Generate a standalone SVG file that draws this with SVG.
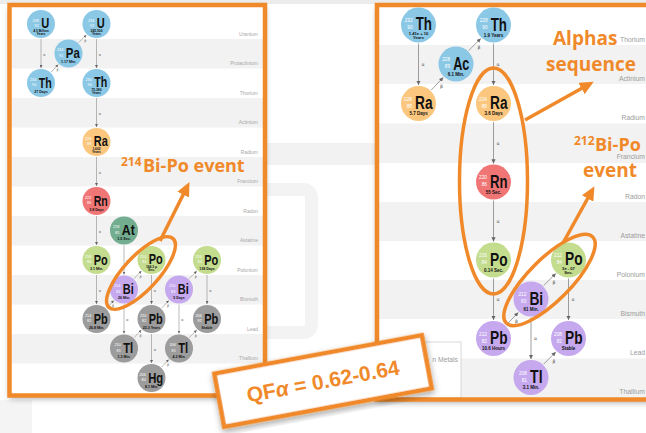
<svg xmlns="http://www.w3.org/2000/svg" width="646" height="433" viewBox="0 0 646 433">
  <defs>
    <style>
      .z { font-family: "Liberation Sans", Arial, sans-serif; font-size: 3.8px; fill: #fff; text-anchor: end; }
      .s { font-family: "Liberation Sans", Arial, sans-serif; font-weight: bold; font-size: 15px; fill: #111; }
      .h { font-family: "Liberation Sans", Arial, sans-serif; font-weight: bold; font-size: 3.6px; fill: #111; text-anchor: middle; }
      .h2 { font-size: 3.3px; }
      .lbl { font-family: "Liberation Sans", Arial, sans-serif; font-size: 5px; fill: #a8a8a8; text-anchor: end; }
      .rlbl { font-family: "Liberation Sans", Arial, sans-serif; font-size: 6.8px; fill: #9c9c9c; text-anchor: end; }
      .band { fill: #f2f2f2; }
      .blue { fill: #8ac8e6; }
      .peach { fill: #fbc77e; }
      .red { fill: #f07676; }
      .teal { fill: #71ad8e; }
      .green { fill: #c3dc8e; }
      .purple { fill: #c6a8ee; }
      .gray { fill: #9c9c9c; }
      .cl line { stroke: #777; stroke-width: 0.5; marker-end: url(#ah); }
      .cr line { stroke: #777; stroke-width: 0.7; marker-end: url(#ah); }
      .al { font-family: "DejaVu Sans", sans-serif; font-size: 3.4px; fill: #555; }
      .ar { font-family: "DejaVu Sans", sans-serif; font-size: 4.6px; fill: #555; }
      .mark { fill: none; stroke: #f0892a; stroke-width: 3.5; }
      .pointer { stroke: #f0892a; stroke-width: 3.5; marker-end: url(#big); }
      .note { font-family: "Open Sans", "Liberation Sans", sans-serif; font-weight: bold; fill: #f0892a; }
      .frame { fill: none; stroke: #f0892a; stroke-width: 4.5; }
    </style>
    <marker id="ah" viewBox="0 0 6 6" markerWidth="6" markerHeight="6" refX="6" refY="3" orient="auto" markerUnits="strokeWidth">
      <path d="M0,0 L6,3 L0,6 z" fill="#666"/>
    </marker>
    <marker id="big" viewBox="0 0 14 13" markerWidth="14" markerHeight="13" refX="4" refY="6.5" orient="auto" markerUnits="userSpaceOnUse">
      <path d="M0,0 L14,6.5 L0,13 z" fill="#f0892a"/>
    </marker>
    <filter id="sh" x="-10%" y="-10%" width="125%" height="125%">
      <feDropShadow dx="0" dy="3" stdDeviation="3" flood-color="#000" flood-opacity="0.35"/>
    </filter>
  </defs>

  <!-- backdrop -->
  <rect x="0" y="0" width="646" height="433" fill="#fff"/>
  <rect x="0" y="0" width="646" height="4" fill="#ececec"/>
  <rect x="250" y="143" width="130" height="22" fill="#f2f2f2"/>
  <rect x="180" y="189.5" width="131.5" height="143" rx="8" fill="none" stroke="#f3f3f3" stroke-width="13"/>
  <rect x="0" y="400" width="32" height="33" fill="#f4f4f4"/>

  <!-- uranium series panel -->
  <g id="panel-left">
    <rect x="9.5" y="5" width="255.5" height="390.5" fill="#fff" filter="url(#sh)"/>
    <rect class="band" x="11.5" y="39" width="251.5" height="29.5"/>
    <rect class="band" x="11.5" y="98" width="251.5" height="29.5"/>
    <rect class="band" x="11.5" y="157" width="251.5" height="29.5"/>
    <rect class="band" x="11.5" y="216" width="251.5" height="29.5"/>
    <rect class="band" x="11.5" y="275" width="251.5" height="29.5"/>
    <rect class="band" x="11.5" y="334" width="251.5" height="29.5"/>
    <text class="lbl" x="258" y="35.5">Uranium</text>
    <text class="lbl" x="258" y="65">Protactinium</text>
    <text class="lbl" x="258" y="94.5">Thorium</text>
    <text class="lbl" x="258" y="124">Actinium</text>
    <text class="lbl" x="258" y="153.5">Radium</text>
    <text class="lbl" x="258" y="183">Francium</text>
    <text class="lbl" x="258" y="212.5">Radon</text>
    <text class="lbl" x="258" y="242">Astatine</text>
    <text class="lbl" x="258" y="271.5">Polonium</text>
    <text class="lbl" x="258" y="301">Bismuth</text>
    <text class="lbl" x="258" y="330.5">Lead</text>
    <text class="lbl" x="258" y="360">Thallium</text>
    <rect class="frame" x="9.5" y="5" width="255.5" height="390.5"/>
  </g>

  <!-- thorium series panel -->
  <g id="panel-right">
    <rect x="377" y="5" width="300" height="394.5" fill="#fff" filter="url(#sh)"/>
    <rect class="band" x="379" y="45" width="267" height="39"/>
    <rect class="band" x="379" y="123.5" width="267" height="39.5"/>
    <rect class="band" x="379" y="202" width="267" height="39"/>
    <rect class="band" x="379" y="280" width="267" height="39"/>
    <rect class="band" x="379" y="358.5" width="267" height="39"/>
    <text class="rlbl" x="645" y="41.5">Thorium</text>
    <text class="rlbl" x="645" y="81">Actinium</text>
    <text class="rlbl" x="645" y="120">Radium</text>
    <text class="rlbl" x="645" y="159">Francium</text>
    <text class="rlbl" x="645" y="199">Radon</text>
    <text class="rlbl" x="645" y="238">Astatine</text>
    <text class="rlbl" x="645" y="277">Polonium</text>
    <text class="rlbl" x="645" y="316">Bismuth</text>
    <text class="rlbl" x="645" y="355">Lead</text>
    <text class="rlbl" x="645" y="394">Thallium</text>
    <rect x="379" y="342" width="82" height="56" fill="#fff" stroke="#d0d0d0" stroke-width="0.8"/>
    <text class="rlbl" x="458" y="362" fill="#aaa">n Metals</text>
    <rect class="frame" x="377" y="5" width="300" height="394.5"/>
  </g>

  <!-- decay connectors, uranium series -->
  <g id="connectors-left" class="cl">
    <line x1="41" y1="39" x2="41" y2="68"/>
    <line x1="96.5" y1="39" x2="96.5" y2="68"/>
    <line x1="96.5" y1="98" x2="96.5" y2="127"/>
    <line x1="96.5" y1="157" x2="96.5" y2="186"/>
    <line x1="96.5" y1="216" x2="96.5" y2="245"/>
    <line x1="96.5" y1="275" x2="96.5" y2="304"/>
    <line x1="124" y1="245.5" x2="124" y2="274.5"/>
    <line x1="124" y1="304.5" x2="124" y2="333.5"/>
    <line x1="151.5" y1="275" x2="151.5" y2="304"/>
    <line x1="151.5" y1="334" x2="151.5" y2="363"/>
    <line x1="179" y1="304.5" x2="179" y2="333.5"/>
    <line x1="207" y1="275" x2="207" y2="304"/>
    <line x1="51.2" y1="72" x2="58.3" y2="64.5"/>
    <line x1="78.8" y1="42.5" x2="86.3" y2="34.9"/>
    <line x1="106.7" y1="308" x2="113.8" y2="300.5"/>
    <line x1="134.2" y1="278.5" x2="141.3" y2="271"/>
    <line x1="134.2" y1="337.5" x2="141.3" y2="330"/>
    <line x1="161.7" y1="308" x2="168.8" y2="300.5"/>
    <line x1="189.2" y1="278.5" x2="196.8" y2="271"/>
    <line x1="161.7" y1="367" x2="168.8" y2="359.5"/>
    <line x1="189.2" y1="337.5" x2="196.8" y2="330"/>
    <text class="al" x="43.3" y="55.5">α</text>
    <text class="al" x="98.8" y="55.5">α</text>
    <text class="al" x="98.8" y="114.5">α</text>
    <text class="al" x="98.8" y="173.5">α</text>
    <text class="al" x="98.8" y="232.5">α</text>
    <text class="al" x="98.8" y="291.5">α</text>
    <text class="al" x="126.3" y="262">α</text>
    <text class="al" x="126.3" y="321">α</text>
    <text class="al" x="153.8" y="291.5">α</text>
    <text class="al" x="153.8" y="350.5">α</text>
    <text class="al" x="181.3" y="321">α</text>
    <text class="al" x="209.3" y="291.5">α</text>
    <text class="al" x="56.5" y="71">β</text>
    <text class="al" x="84.3" y="41.5">β</text>
    <text class="al" x="112" y="307">β</text>
    <text class="al" x="139.5" y="277.5">β</text>
    <text class="al" x="139.5" y="336.5">β</text>
    <text class="al" x="167" y="307">β</text>
    <text class="al" x="194.8" y="277.5">β</text>
    <text class="al" x="167" y="366">β</text>
    <text class="al" x="194.8" y="336.5">β</text>
  </g>

  <!-- decay connectors, thorium series -->
  <g id="connectors-right" class="cr">
    <line x1="418.5" y1="43.5" x2="418.5" y2="85"/>
    <line x1="493.5" y1="43.5" x2="493.5" y2="85"/>
    <line x1="493.5" y1="122" x2="493.5" y2="163.5"/>
    <line x1="493.5" y1="200.5" x2="493.5" y2="241.5"/>
    <line x1="493.5" y1="278.5" x2="493.5" y2="320"/>
    <line x1="531" y1="317.5" x2="531" y2="359"/>
    <line x1="568.5" y1="278.5" x2="568.5" y2="320"/>
    <line x1="431.2" y1="90.1" x2="443.3" y2="77.4"/>
    <line x1="468.7" y1="50.6" x2="480.8" y2="38.4"/>
    <line x1="506.2" y1="325.1" x2="518.3" y2="312.4"/>
    <line x1="543.7" y1="285.6" x2="555.8" y2="273.4"/>
    <line x1="543.7" y1="364.1" x2="555.8" y2="351.9"/>
    <text class="ar" x="421.5" y="66">α</text>
    <text class="ar" x="496.5" y="66">α</text>
    <text class="ar" x="496.5" y="144.5">α</text>
    <text class="ar" x="496.5" y="222.5">α</text>
    <text class="ar" x="496.5" y="300.5">α</text>
    <text class="ar" x="534" y="339.5">α</text>
    <text class="ar" x="571.5" y="300.5">α</text>
    <text class="ar" x="440" y="88">β</text>
    <text class="ar" x="477.5" y="48.5">β</text>
    <text class="ar" x="515" y="323">β</text>
    <text class="ar" x="552.5" y="284">β</text>
    <text class="ar" x="552.5" y="362.5">β</text>
  </g>

  <!-- uranium series nuclides -->
  <g id="u238" transform="translate(41,24)"><circle r="14" class="blue"/><text class="z" x="-2.25" y="-2.3">238</text><text class="z" x="-2.25" y="3.3">92</text><text class="s" x="0.25" y="4" textLength="8" lengthAdjust="spacingAndGlyphs">U</text><text class="h h2" y="7.9">4.5 Billion</text><text class="h h2" y="11.4">Years</text></g>
  <g id="u234" transform="translate(96.5,24)"><circle r="14" class="blue"/><text class="z" x="-2.25" y="-2.3">234</text><text class="z" x="-2.25" y="3.3">92</text><text class="s" x="0.25" y="4" textLength="8" lengthAdjust="spacingAndGlyphs">U</text><text class="h h2" y="7.9">245,500</text><text class="h h2" y="11.4">Years</text></g>
  <g id="pa234" transform="translate(68.5,53.5)"><circle r="14" class="blue"/><text class="z" x="-5.25" y="-2.3">234</text><text class="z" x="-5.25" y="3.3">91</text><text class="s" x="-2.75" y="4.5" textLength="14" lengthAdjust="spacingAndGlyphs">Pa</text><text class="h" y="9.5">1.17 Min.</text></g>
  <g id="th234" transform="translate(41,83)"><circle r="14" class="blue"/><text class="z" x="-4.75" y="-2.3">234</text><text class="z" x="-4.75" y="3.3">90</text><text class="s" x="-2.25" y="4.5" textLength="13" lengthAdjust="spacingAndGlyphs">Th</text><text class="h" y="9.5">27 Days</text></g>
  <g id="th230" transform="translate(96.5,83)"><circle r="14" class="blue"/><text class="z" x="-4.75" y="-2.3">230</text><text class="z" x="-4.75" y="3.3">90</text><text class="s" x="-2.25" y="4" textLength="13" lengthAdjust="spacingAndGlyphs">Th</text><text class="h h2" y="7.9">75,380</text><text class="h h2" y="11.4">Years</text></g>
  <g id="ra226" transform="translate(96.5,142)"><circle r="14" class="peach"/><text class="z" x="-5.25" y="-2.3">226</text><text class="z" x="-5.25" y="3.3">88</text><text class="s" x="-2.75" y="4" textLength="14" lengthAdjust="spacingAndGlyphs">Ra</text><text class="h h2" y="7.9">1,602</text><text class="h h2" y="11.4">Years</text></g>
  <g id="rn222" transform="translate(96.5,201)"><circle r="14" class="red"/><text class="z" x="-5.25" y="-2.3">222</text><text class="z" x="-5.25" y="3.3">86</text><text class="s" x="-2.75" y="4.5" textLength="14" lengthAdjust="spacingAndGlyphs">Rn</text><text class="h" y="9.5">3.8 Days</text></g>
  <g id="at218" transform="translate(124,230.5)"><circle r="14" class="teal"/><text class="z" x="-4.75" y="-2.3">218</text><text class="z" x="-4.75" y="3.3">85</text><text class="s" x="-2.25" y="4.5" textLength="13" lengthAdjust="spacingAndGlyphs">At</text><text class="h" y="9.5">1.5 Sec.</text></g>
  <g id="po218" transform="translate(96.5,260)"><circle r="14" class="green"/><text class="z" x="-5.25" y="-2.3">218</text><text class="z" x="-5.25" y="3.3">84</text><text class="s" x="-2.75" y="4.5" textLength="14" lengthAdjust="spacingAndGlyphs">Po</text><text class="h" y="9.5">3.1 Min.</text></g>
  <g id="po214" transform="translate(151.5,260)"><circle r="14" class="green"/><text class="z" x="-5.25" y="-2.3">214</text><text class="z" x="-5.25" y="3.3">84</text><text class="s" x="-2.75" y="4" textLength="14" lengthAdjust="spacingAndGlyphs">Po</text><text class="h h2" y="7.9">164.3 μ</text><text class="h h2" y="11.4">Sec.</text></g>
  <g id="po210" transform="translate(207,260)"><circle r="14" class="green"/><text class="z" x="-5.25" y="-2.3">210</text><text class="z" x="-5.25" y="3.3">84</text><text class="s" x="-2.75" y="4.5" textLength="14" lengthAdjust="spacingAndGlyphs">Po</text><text class="h" y="9.5">138 Days</text></g>
  <g id="bi214" transform="translate(124,289.5)"><circle r="14" class="purple"/><text class="z" x="-3.75" y="-2.3">214</text><text class="z" x="-3.75" y="3.3">83</text><text class="s" x="-1.25" y="4.5" textLength="11" lengthAdjust="spacingAndGlyphs">Bi</text><text class="h" y="9.5">20 Min.</text></g>
  <g id="bi210" transform="translate(179,289.5)"><circle r="14" class="purple"/><text class="z" x="-3.75" y="-2.3">210</text><text class="z" x="-3.75" y="3.3">83</text><text class="s" x="-1.25" y="4.5" textLength="11" lengthAdjust="spacingAndGlyphs">Bi</text><text class="h" y="9.5">5 Days</text></g>
  <g id="pb214" transform="translate(96.5,319)"><circle r="14" class="gray"/><text class="z" x="-5.25" y="-2.3">214</text><text class="z" x="-5.25" y="3.3">82</text><text class="s" x="-2.75" y="4.5" textLength="14" lengthAdjust="spacingAndGlyphs">Pb</text><text class="h" y="9.5">26.8 Min.</text></g>
  <g id="pb210" transform="translate(151.5,319)"><circle r="14" class="gray"/><text class="z" x="-5.25" y="-2.3">210</text><text class="z" x="-5.25" y="3.3">82</text><text class="s" x="-2.75" y="4.5" textLength="14" lengthAdjust="spacingAndGlyphs">Pb</text><text class="h" y="9.5">22.3 Years</text></g>
  <g id="pb206" transform="translate(207,319)"><circle r="14" class="gray"/><text class="z" x="-5.25" y="-2.3">206</text><text class="z" x="-5.25" y="3.3">82</text><text class="s" x="-2.75" y="4.5" textLength="14" lengthAdjust="spacingAndGlyphs">Pb</text><text class="h" y="9.5">Stable</text></g>
  <g id="tl210" transform="translate(124,348.5)"><circle r="14" class="gray"/><text class="z" x="-3.25" y="-2.3">210</text><text class="z" x="-3.25" y="3.3">81</text><text class="s" x="-0.75" y="4.5" textLength="10" lengthAdjust="spacingAndGlyphs">Tl</text><text class="h" y="9.5">1.3 Min.</text></g>
  <g id="tl206" transform="translate(179,348.5)"><circle r="14" class="gray"/><text class="z" x="-3.25" y="-2.3">206</text><text class="z" x="-3.25" y="3.3">81</text><text class="s" x="-0.75" y="4.5" textLength="10" lengthAdjust="spacingAndGlyphs">Tl</text><text class="h" y="9.5">4.2 Min.</text></g>
  <g id="hg206" transform="translate(151.5,378)"><circle r="14" class="gray"/><text class="z" x="-5.75" y="-2.3">206</text><text class="z" x="-5.75" y="3.3">80</text><text class="s" x="-3.25" y="4.5" textLength="15" lengthAdjust="spacingAndGlyphs">Hg</text><text class="h" y="9.5">8.1 Min.</text></g>

  <!-- thorium series nuclides -->
  <g id="th232" transform="translate(418.5,25) scale(1.25)"><circle r="14" class="blue"/><text class="z" x="-4.75" y="-2.3">232</text><text class="z" x="-4.75" y="3.3">90</text><text class="s" x="-2.25" y="4" textLength="13" lengthAdjust="spacingAndGlyphs">Th</text><text class="h h2" y="7.9">1.41e + 10</text><text class="h h2" y="11.4">Years</text></g>
  <g id="th228" transform="translate(493.5,25) scale(1.25)"><circle r="14" class="blue"/><text class="z" x="-4.75" y="-2.3">228</text><text class="z" x="-4.75" y="3.3">90</text><text class="s" x="-2.25" y="4.5" textLength="13" lengthAdjust="spacingAndGlyphs">Th</text><text class="h" y="9.5">1.9 Years</text></g>
  <g id="ac228" transform="translate(456,64) scale(1.25)"><circle r="14" class="blue"/><text class="z" x="-4.75" y="-2.3">228</text><text class="z" x="-4.75" y="3.3">89</text><text class="s" x="-2.25" y="4.5" textLength="13" lengthAdjust="spacingAndGlyphs">Ac</text><text class="h" y="9.5">6.1 Min.</text></g>
  <g id="ra228" transform="translate(418.5,103.5) scale(1.25)"><circle r="14" class="peach"/><text class="z" x="-5.25" y="-2.3">228</text><text class="z" x="-5.25" y="3.3">88</text><text class="s" x="-2.75" y="4.5" textLength="14" lengthAdjust="spacingAndGlyphs">Ra</text><text class="h" y="9.5">5.7 Days</text></g>
  <g id="ra224" transform="translate(493.5,103.5) scale(1.25)"><circle r="14" class="peach"/><text class="z" x="-5.25" y="-2.3">224</text><text class="z" x="-5.25" y="3.3">88</text><text class="s" x="-2.75" y="4.5" textLength="14" lengthAdjust="spacingAndGlyphs">Ra</text><text class="h" y="9.5">3.6 Days</text></g>
  <g id="rn220" transform="translate(493.5,182) scale(1.25)"><circle r="14" class="red"/><text class="z" x="-5.25" y="-2.3">220</text><text class="z" x="-5.25" y="3.3">86</text><text class="s" x="-2.75" y="4.5" textLength="14" lengthAdjust="spacingAndGlyphs">Rn</text><text class="h" y="9.5">55 Sec.</text></g>
  <g id="po216" transform="translate(493.5,260) scale(1.25)"><circle r="14" class="green"/><text class="z" x="-5.25" y="-2.3">216</text><text class="z" x="-5.25" y="3.3">84</text><text class="s" x="-2.75" y="4.5" textLength="14" lengthAdjust="spacingAndGlyphs">Po</text><text class="h" y="9.5">0.14 Sec.</text></g>
  <g id="po212" transform="translate(568.5,260) scale(1.25)"><circle r="14" class="green"/><text class="z" x="-5.25" y="-2.3">212</text><text class="z" x="-5.25" y="3.3">84</text><text class="s" x="-2.75" y="4" textLength="14" lengthAdjust="spacingAndGlyphs">Po</text><text class="h h2" y="7.9">3e - 07</text><text class="h h2" y="11.4">Sec.</text></g>
  <g id="bi212" transform="translate(531,299) scale(1.25)"><circle r="14" class="purple"/><text class="z" x="-3.75" y="-2.3">212</text><text class="z" x="-3.75" y="3.3">83</text><text class="s" x="-1.25" y="4.5" textLength="11" lengthAdjust="spacingAndGlyphs">Bi</text><text class="h" y="9.5">61 Min.</text></g>
  <g id="pb212" transform="translate(493.5,338.5) scale(1.25)"><circle r="14" class="purple"/><text class="z" x="-5.25" y="-2.3">212</text><text class="z" x="-5.25" y="3.3">82</text><text class="s" x="-2.75" y="4.5" textLength="14" lengthAdjust="spacingAndGlyphs">Pb</text><text class="h" y="9.5">10.6 Hours</text></g>
  <g id="pb208" transform="translate(568.5,338.5) scale(1.25)"><circle r="14" class="purple"/><text class="z" x="-5.25" y="-2.3">208</text><text class="z" x="-5.25" y="3.3">82</text><text class="s" x="-2.75" y="4.5" textLength="14" lengthAdjust="spacingAndGlyphs">Pb</text><text class="h" y="9.5">Stable</text></g>
  <g id="tl208" transform="translate(531,377.5) scale(1.25)"><circle r="14" class="purple"/><text class="z" x="-3.25" y="-2.3">208</text><text class="z" x="-3.25" y="3.3">81</text><text class="s" x="-0.75" y="4.5" textLength="10" lengthAdjust="spacingAndGlyphs">Tl</text><text class="h" y="9.5">3.1 Min.</text></g>

  <!-- highlights and callouts -->
  <g id="callout-bipo214">
    <ellipse class="mark" cx="141" cy="273" rx="47" ry="17" transform="rotate(-47 141 273)"/>
    <line class="pointer" x1="160" y1="241" x2="185" y2="191"/>
    <text class="note" x="121" y="166" font-size="12">214</text>
    <text class="note" x="143" y="172" font-size="18">Bi-Po event</text>
  </g>
  <g id="callout-alphas">
    <ellipse class="mark" cx="493.5" cy="181" rx="34" ry="113"/>
    <line class="pointer" x1="525" y1="120" x2="585" y2="86.5"/>
    <text class="note" x="553" y="45" font-size="19">Alphas</text>
    <text class="note" x="546" y="71" font-size="19">sequence</text>
  </g>
  <g id="callout-bipo212">
    <ellipse class="mark" cx="549.5" cy="280" rx="61" ry="21" transform="rotate(-45 549.5 280)"/>
    <line class="pointer" x1="563" y1="243" x2="589.6" y2="195"/>
    <text class="note" x="574" y="145" font-size="12">212</text>
    <text class="note" x="595" y="151" font-size="18">Bi-Po</text>
    <text class="note" x="583" y="177" font-size="19">event</text>
  </g>

  <!-- quenching factor tag -->
  <g id="qf" transform="translate(323,381) rotate(-10.5)">
    <rect x="-105.5" y="-27" width="211" height="54" fill="#fff" stroke="#f0892a" stroke-width="4.5" filter="url(#sh)"/>
    <text x="0" y="7.5" text-anchor="middle" font-family="Liberation Sans, Arial, sans-serif" font-weight="bold" font-size="21" fill="#f0892a">QF<tspan font-style="italic">α</tspan> = 0.62-0.64</text>
  </g>
</svg>
